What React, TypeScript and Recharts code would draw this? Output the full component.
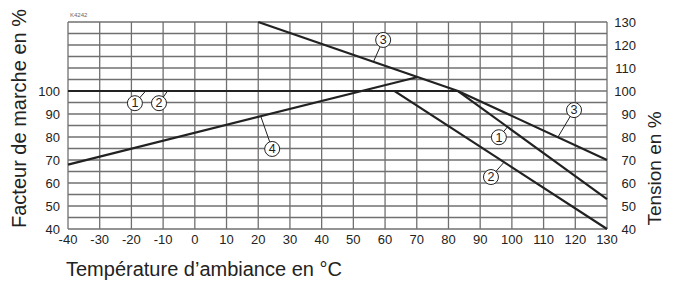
import React from "react";
import {
  CartesianGrid,
  Label,
  Line,
  LineChart,
  ReferenceDot,
  ReferenceLine,
  XAxis,
  YAxis,
} from "recharts";

// temperature (°C) / value (%) pairs
const curve1Temps = [-40, 83, 130];
const curve1Values = [100, 100, 53];
const curve2Temps = [-40, 63, 130];
const curve2Values = [100, 100, 40];
const curve3Temps = [20, 83, 130];
const curve3Values = [130, 100, 70];
const curve4Temps = [-40, 70];
const curve4Values = [68, 106];

const xTicks = [-40, -30, -20, -10, 0, 10, 20, 30, 40, 50, 60, 70, 80, 90, 100, 110, 120, 130];
const leftTicks = [40, 50, 60, 70, 80, 90, 100];
const rightTicks = [40, 50, 60, 70, 80, 90, 100, 110, 120, 130];
const gridRows = [40, 45, 50, 55, 60, 65, 70, 75, 80, 85, 90, 95, 100, 105, 110, 115, 120, 125, 130];

// circled callouts: label, circle centre, point on curve
const calloutText = ["1", "2", "4", "3", "3", "1", "2"];
const calloutAt = [
  [-18.9, 94.7],
  [-11.3, 94.7],
  [24.4, 74.8],
  [59.4, 122.2],
  [119.6, 91.7],
  [95.9, 79.9],
  [93.4, 62.6],
];
const calloutTarget = [
  [-15.5, 100],
  [-8.6, 100],
  [20.8, 89],
  [56.3, 112.6],
  [114.5, 79.9],
  [98.7, 84.5],
  [97.5, 69],
];

const toPoints = (t: number[], v: number[]) => t.map((x, i) => ({ t: x, v: v[i] }));

const FONT = "'Liberation Sans', Arial, sans-serif";
const INK = "#222";

const circled = (txt: string) => (props: any) => {
  const { cx, cy } = props;
  return (
    <g>
      <circle cx={cx} cy={cy} r={7.5} fill="#fff" stroke={INK} strokeWidth={1} />
      <text x={cx} y={cy + 4.3} textAnchor="middle" fontSize={12.5} fill={INK} fontFamily={FONT}>
        {txt}
      </text>
    </g>
  );
};

// right-hand labels are right-aligned a little way off the plot
const RightTick = (props: any) => (
  <text x={props.x + 24} y={props.y} dy="0.355em" textAnchor="end" fontSize={13} fill={INK} fontFamily={FONT}>
    {props.payload.value}
  </text>
);

export default function App() {
  const series = [
    { id: "left", d: toPoints(curve1Temps, curve1Values) },
    { id: "left", d: toPoints(curve2Temps, curve2Values) },
    { id: "right", d: toPoints(curve3Temps, curve3Values) },
    { id: "left", d: toPoints(curve4Temps, curve4Values) },
  ];
  const tickStyle = { fill: INK, fontSize: 13, fontFamily: FONT };

  return (
    <div style={{ position: "absolute", left: 0, top: 0, background: "#fff" }}>
      <LineChart
        width={679}
        height={282}
        margin={{ top: 22, right: 0, bottom: 0, left: 0 }}
        style={{ fontFamily: FONT }}
      >
        <CartesianGrid
          yAxisId="left"
          stroke="#707070"
          strokeWidth={1.3}
          horizontalValues={gridRows}
          verticalValues={xTicks}
        />
        <XAxis
          type="number"
          dataKey="t"
          domain={[-40, 130]}
          ticks={xTicks}
          interval={0}
          height={53}
          tickLine={false}
          axisLine={false}
          tickSize={0}
          tickMargin={6}
          tick={tickStyle}
        >
          <Label
            content={(p: any) => (
              <text x={p.viewBox.x - 2} y={p.viewBox.y + 47} fontSize={20} fill={INK} fontFamily={FONT}>
                Température d’ambiance en °C
              </text>
            )}
          />
        </XAxis>
        <YAxis
          yAxisId="left"
          orientation="left"
          type="number"
          domain={[40, 130]}
          ticks={leftTicks}
          interval={0}
          width={68}
          tickLine={false}
          axisLine={false}
          tickSize={0}
          tickMargin={8}
          tick={tickStyle}
        >
          <Label
            content={(p: any) => {
              const x = p.viewBox.x + 26;
              const y = p.viewBox.y + p.viewBox.height / 2 - 7;
              return (
                <text x={x} y={y} transform={`rotate(-90 ${x} ${y})`} textAnchor="middle" fontSize={20} fill={INK} fontFamily={FONT}>
                  Facteur de marche en %
                </text>
              );
            }}
          />
          <Label
            content={(p: any) => (
              <text x={p.viewBox.x + 70} y={p.viewBox.y - 5} fontSize={6} fill="#666" fontFamily={FONT}>
                K4242
              </text>
            )}
          />
        </YAxis>
        <YAxis
          yAxisId="right"
          orientation="right"
          type="number"
          domain={[40, 130]}
          ticks={rightTicks}
          interval={0}
          width={72}
          tickLine={false}
          axisLine={false}
          tickSize={0}
          tickMargin={5}
          tick={<RightTick />}
        >
          <Label
            content={(p: any) => {
              const x = p.viewBox.x + 54;
              const y = p.viewBox.y + p.viewBox.height / 2 + 43;
              return (
                <text x={x} y={y} transform={`rotate(-90 ${x} ${y})`} textAnchor="middle" fontSize={19} fill={INK} fontFamily={FONT}>
                  Tension en %
                </text>
              );
            }}
          />
        </YAxis>

        {series.map((s, i) => (
          <Line
            key={i}
            yAxisId={s.id}
            data={s.d}
            dataKey="v"
            type="linear"
            stroke={INK}
            strokeWidth={2.2}
            dot={false}
            activeDot={false}
            isAnimationActive={false}
          />
        ))}

        {calloutAt.map((c, i) => (
          <ReferenceLine
            key={"l" + i}
            yAxisId="left"
            segment={[
              { x: c[0], y: c[1] },
              { x: calloutTarget[i][0], y: calloutTarget[i][1] },
            ]}
            stroke={INK}
            strokeWidth={1}
          />
        ))}
        {calloutAt.map((c, i) => (
          <ReferenceDot
            key={"d" + i}
            yAxisId="left"
            x={c[0]}
            y={c[1]}
            r={7.5}
            shape={circled(calloutText[i])}
          />
        ))}
      </LineChart>
    </div>
  );
}
